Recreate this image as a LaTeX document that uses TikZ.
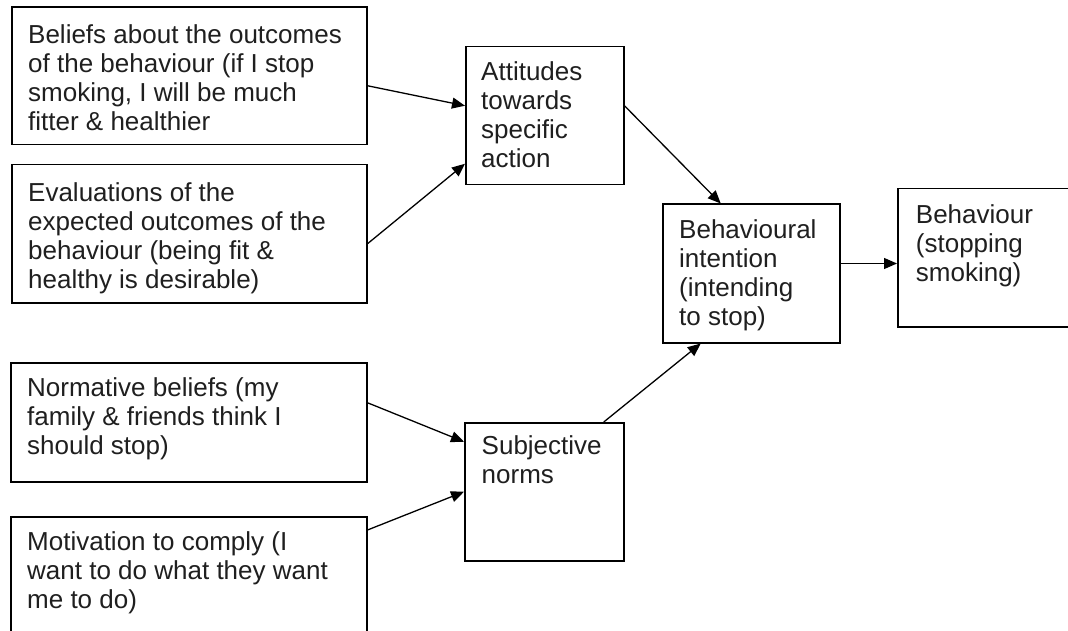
\documentclass[tikz,border=0pt]{standalone}
\usepackage{fontspec}
\setmainfont{Liberation Sans}
\usetikzlibrary{arrows.meta,calc}
\begin{document}
\begin{tikzpicture}[x=1pt,y=-1pt,
  boxnode/.style={draw=black,line width=1.5pt,rectangle,inner sep=0pt,anchor=north west},
  txt/.style={anchor=north west,inner sep=0pt,align=left,text=black!88,font=\fontsize{26}{29}\selectfont},
  conn/.style={line width=1.3pt,-{Triangle[length=13pt,width=11pt]}}]
\useasboundingbox (0,0) rectangle (1068,631);
\clip (0,0) rectangle (1068,631);
\fill[white] (0,0) rectangle (1068,631);
% boxes
\node[boxnode,minimum width=355pt,minimum height=137.5pt] (b1) at (11,6.5) {};
\node[boxnode,minimum width=355pt,minimum height=138pt] (b2) at (11,164) {};
\node[boxnode,minimum width=356pt,minimum height=119pt] (b3) at (10,362) {};
\node[boxnode,minimum width=356pt,minimum height=140pt] (b4) at (10,516) {};
\node[boxnode,minimum width=158pt,minimum height=138pt] (att) at (465,46) {};
\node[boxnode,minimum width=159pt,minimum height=138pt] (subj) at (464,422) {};
\node[boxnode,minimum width=177pt,minimum height=138.5pt] (bi) at (662,203.5) {};
\node[boxnode,minimum width=200pt,minimum height=138pt] (bh) at (897,188) {};
% texts
\node[txt] (t1) at (28,24.5) {Beliefs about the outcomes\\of the behaviour (if I stop\\smoking, I will be much\\fitter \& healthier};
\node[txt] (t2) at (28,182.5) {Evaluations of the\\expected outcomes of the\\behaviour (being fit \&\\healthy is desirable)};
\node[txt] (t3) at (27,377) {Normative beliefs (my\\family \& friends think I\\should stop)};
\node[txt] (t4) at (27,531.5) {Motivation to comply (I\\want to do what they want\\me to do)};
\node[txt] (tatt) at (481,61.7) {Attitudes\\towards\\specific\\action};
\node[txt] (tsubj) at (481.5,435) {Subjective\\norms};
\node[txt] (tbi) at (679,219) {Behavioural\\intention\\(intending\\to stop)};
\node[txt] (tbh) at (915.7,204) {Behaviour\\(stopping\\smoking)};
% connectors
\draw[conn] ([yshift=-9.75pt]b1.east) -- ([yshift=10pt]att.west);
\draw[conn] ([yshift=-10pt]b2.east) -- ([yshift=-48pt]att.west);
\draw[conn] ([yshift=19.5pt]b3.east) -- ([yshift=50pt]subj.west);
\draw[conn] ([yshift=-14pt]b4.north east) -- (subj.west);
\draw[conn] ([yshift=10pt]att.east) -- ([xshift=-30.5pt]bi.north);
\draw[conn] ([xshift=59.5pt]subj.north) -- ([xshift=-50.5pt]bi.south);
\draw[conn] ([yshift=10pt]bi.east) -- ([yshift=10pt]bi.east -| bh.west);
\end{tikzpicture}
\end{document}
